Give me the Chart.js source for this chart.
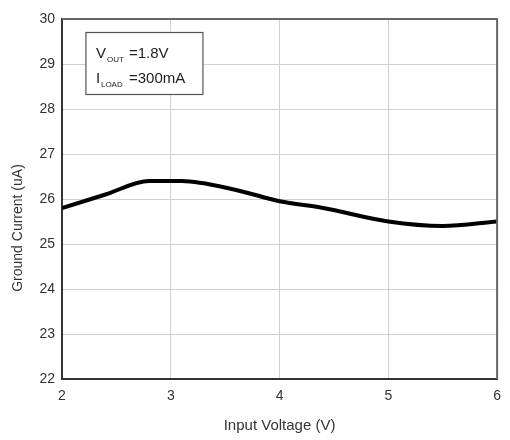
<!DOCTYPE html>
<html>
<head>
<meta charset="utf-8">
<script src="https://cdn.jsdelivr.net/npm/chart.js@4"></script>
<style>
  html, body { margin: 0; padding: 0; background: #fff; }
  #wrap { width: 510px; height: 440px; }
</style>
</head>
<body>
<div id="wrap"><canvas id="myChart" width="510" height="440"></canvas></div>
<script>
'use strict';

// Data
const inputVoltage = [2, 2.4, 2.8, 3.1, 3.6, 4, 4.4, 5, 5.5, 6];
const groundCurrent = [25.8, 26.1, 26.4, 26.4, 26.2, 25.95, 25.8, 25.5, 25.4, 25.5];
const xTicks = [2, 3, 4, 5, 6];
const yTicks = [22, 23, 24, 25, 26, 27, 28, 29, 30];

const fontFamily = '"Liberation Sans", Arial, sans-serif';

// Condition box in the upper left corner
const conditionBox = {
  id: 'conditionBox',
  afterDraw(chart) {
    const c = chart.ctx;
    const x = chart.scales.x;
    const y = chart.scales.y;
    const left = x.getPixelForValue(2.22);
    const top = y.getPixelForValue(29.7);
    const w = 117;
    const h = 62;
    c.save();
    c.fillStyle = '#fff';
    c.fillRect(left, top, w, h);
    c.strokeStyle = '#555';
    c.lineWidth = 1.2;
    c.strokeRect(left, top, w, h);

    c.fillStyle = '#222';
    c.textBaseline = 'alphabetic';
    c.font = '15px ' + fontFamily;
    c.fillText('V', left + 10, top + 25);
    c.fillText('=1.8V', left + 43, top + 25);
    c.fillText('I', left + 10, top + 50);
    c.fillText('=300mA', left + 43, top + 50);
    c.font = '8px ' + fontFamily;
    c.fillText('OUT', left + 21, top + 29);
    c.fillText('LOAD', left + 15, top + 54);
    c.restore();
  }
};

// Axis titles, placed where the original has them
const axisTitles = {
  id: 'axisTitles',
  afterDraw(chart) {
    const c = chart.ctx;
    const a = chart.chartArea;
    c.save();
    c.fillStyle = '#333';
    c.textAlign = 'center';
    c.textBaseline = 'middle';
    c.font = '15px ' + fontFamily;
    c.fillText('Input Voltage (V)', (a.left + a.right) / 2, 426);
    c.font = '14px ' + fontFamily;
    c.translate(18, 228);
    c.rotate(-Math.PI / 2);
    c.fillText('Ground Current (uA)', 0, 0);
    c.restore();
  }
};

const frame = {
  id: 'frame',
  afterDatasetsDraw(chart) {
    const a = chart.chartArea;
    const c = chart.ctx;
    c.save();
    c.strokeStyle = '#666';
    c.lineWidth = 2;
    c.beginPath();
    c.moveTo(a.left, a.top);
    c.lineTo(a.right, a.top);
    c.lineTo(a.right, a.bottom);
    c.stroke();
    c.restore();
  }
};

const ctx = document.getElementById('myChart');

new Chart(ctx, {
  type: 'line',
  data: {
    datasets: [{
      label: 'Ground Current',
      data: inputVoltage.map((v, i) => ({ x: v, y: groundCurrent[i] })),
      borderColor: '#000',
      borderWidth: 4,
      pointRadius: 0,
      tension: 0.4,
      cubicInterpolationMode: 'monotone',
      fill: false
    }]
  },
  options: {
    responsive: false,
    animation: false,
    layout: { padding: { top: 19, right: 9, left: 0, bottom: 0 } },
    plugins: {
      legend: { display: false },
      tooltip: { enabled: false }
    },
    scales: {
      x: {
        type: 'linear',
        min: 2,
        max: 6,
        afterBuildTicks: s => { s.ticks = xTicks.map(v => ({ value: v })); },
        afterFit: s => { s.height = 61; },
        grid: { color: '#d0d0d0', lineWidth: 1, drawTicks: false },
        border: { color: '#333', width: 2 },
        ticks: { color: '#333', font: { family: fontFamily, size: 14 }, padding: 9 }
      },
      y: {
        min: 22,
        max: 30,
        afterBuildTicks: s => { s.ticks = yTicks.map(v => ({ value: v })); },
        afterFit: s => { s.width = 62; },
        grid: { color: '#d0d0d0', lineWidth: 1, drawTicks: false },
        border: { color: '#333', width: 2 },
        ticks: { color: '#333', font: { family: fontFamily, size: 14 }, padding: 7 }
      }
    }
  },
  plugins: [conditionBox, axisTitles, frame]
});
</script>
</body>
</html>
